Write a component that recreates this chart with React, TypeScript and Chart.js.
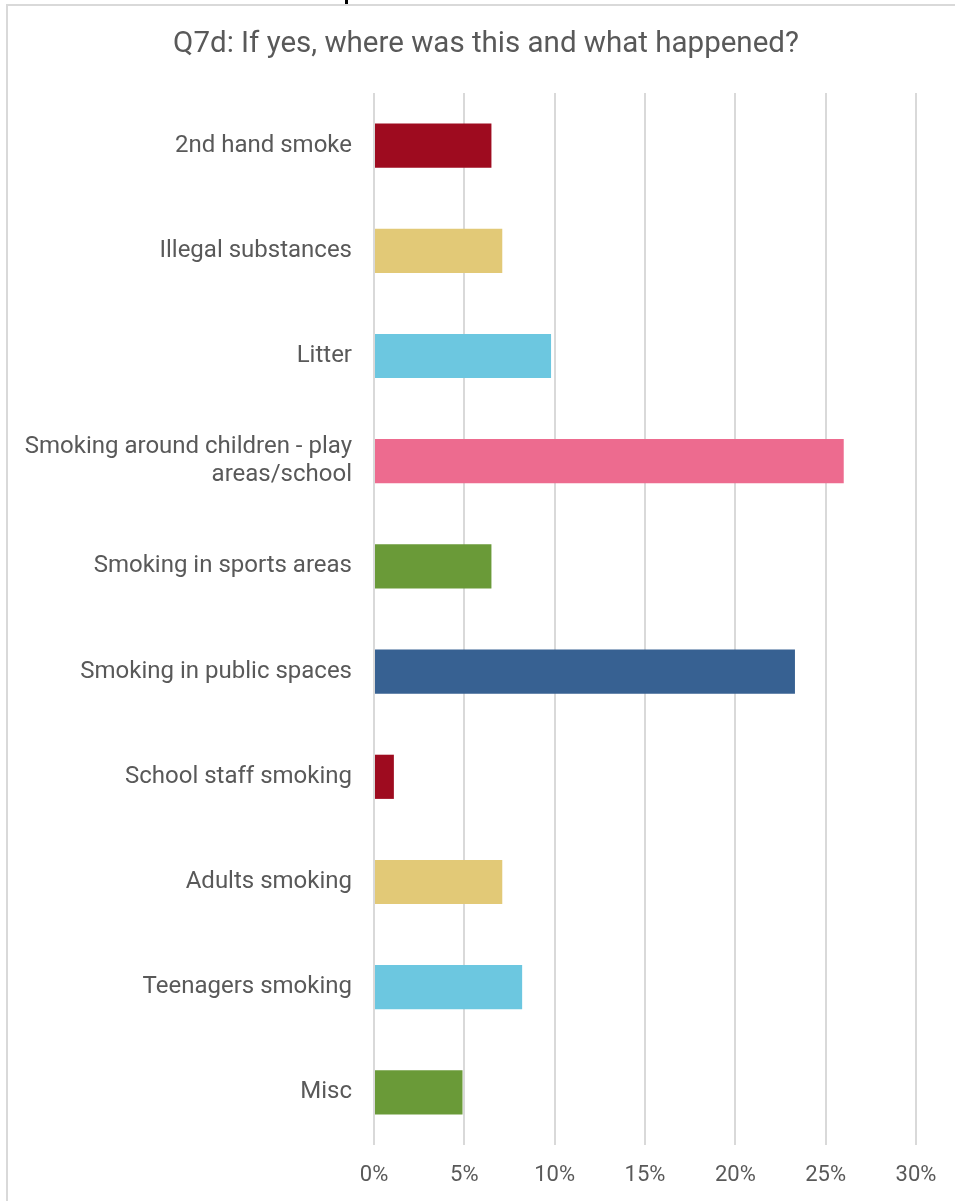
import React, { useEffect, useRef } from "react";
import { Chart, registerables } from "chart.js";

Chart.register(...registerables);

const TITLE = "Q7d: If yes, where was this and what happened?";
const CATEGORIES: (string | string[])[] = [
  "2nd hand smoke",
  "Illegal substances",
  "Litter",
  ["Smoking around children - play", "areas/school"],
  "Smoking in sports areas",
  "Smoking in public spaces",
  "School staff smoking",
  "Adults smoking",
  "Teenagers smoking",
  "Misc",
];
const VALUES = [6.5, 7.1, 9.8, 26.0, 6.5, 23.3, 1.1, 7.1, 8.2, 4.9];
const BAR_COLORS = [
  "#9E0B1F",
  "#E2C977",
  "#6CC7E0",
  "#ED6B8F",
  "#6A9A38",
  "#376192",
  "#9E0B1F",
  "#E2C977",
  "#6CC7E0",
  "#6A9A38",
];
const X_MAX = 30;
const X_STEP = 5;

const TEXT = "#595959";
const FONT = "Roboto";

if (typeof document !== "undefined") {
  document.body.style.margin = "0";
}

const framePlugin = {
  id: "frame",
  afterDraw(chart: any) {
    const ctx = chart.ctx;
    ctx.save();
    ctx.strokeStyle = "#d9d9d9";
    ctx.lineWidth = 2;
    ctx.beginPath();
    ctx.moveTo(7, chart.height);
    ctx.lineTo(7, 5);
    ctx.lineTo(chart.width, 5);
    ctx.stroke();
    ctx.fillStyle = "#000000";
    ctx.fillRect(345, 0, 3, 4);
    ctx.fillStyle = TEXT;
    ctx.font = `normal 29.5px ${FONT}`;
    ctx.textAlign = "center";
    ctx.textBaseline = "middle";
    ctx.fillText(TITLE, 486, 45);
    ctx.restore();
  },
};

export default function App() {
  const ref = useRef<HTMLCanvasElement | null>(null);

  useEffect(() => {
    document.body.style.margin = "0";
    if (!ref.current) return;
    const chart = new Chart(ref.current, {
      type: "bar",
      data: {
        labels: CATEGORIES,
        datasets: [
          {
            data: VALUES,
            backgroundColor: BAR_COLORS,
            borderWidth: 0,
            barPercentage: 0.42,
            categoryPercentage: 1,
          },
        ],
      },
      options: {
        indexAxis: "y",
        animation: false,
        responsive: false,
        maintainAspectRatio: false,
        layout: { padding: { left: 0, right: 39, top: 93, bottom: 0 } },
        plugins: {
          legend: { display: false },
          tooltip: { enabled: false },
          title: { display: false },
        },
        scales: {
          x: {
            min: 0,
            max: X_MAX,
            ticks: {
              stepSize: X_STEP,
              color: TEXT,
              font: { family: FONT, size: 22 },
              padding: 17,
              callback: (v: any) => `${v}%`,
            },
            grid: { color: "#d9d9d9", lineWidth: 2, drawTicks: false },
            border: { display: false },
            afterFit: (s: any) => {
              s.height = 56;
            },
          },
          y: {
            ticks: {
              color: TEXT,
              font: { family: FONT, size: 24, lineHeight: 1.17 },
              padding: 22,
              autoSkip: false,
            },
            grid: { display: false, drawTicks: false },
            border: { display: false },
            afterFit: (s: any) => {
              s.width = 374;
            },
          },
        },
      },
      plugins: [framePlugin],
    });
    return () => chart.destroy();
  }, []);

  return (
    <div
      style={{
        position: "relative",
        width: 955,
        height: 1201,
        overflow: "hidden",
        background: "#ffffff",
      }}
    >
      <canvas
        ref={ref}
        width={955}
        height={1201}
        style={{ display: "block", width: 955, height: 1201 }}
      />
    </div>
  );
}
